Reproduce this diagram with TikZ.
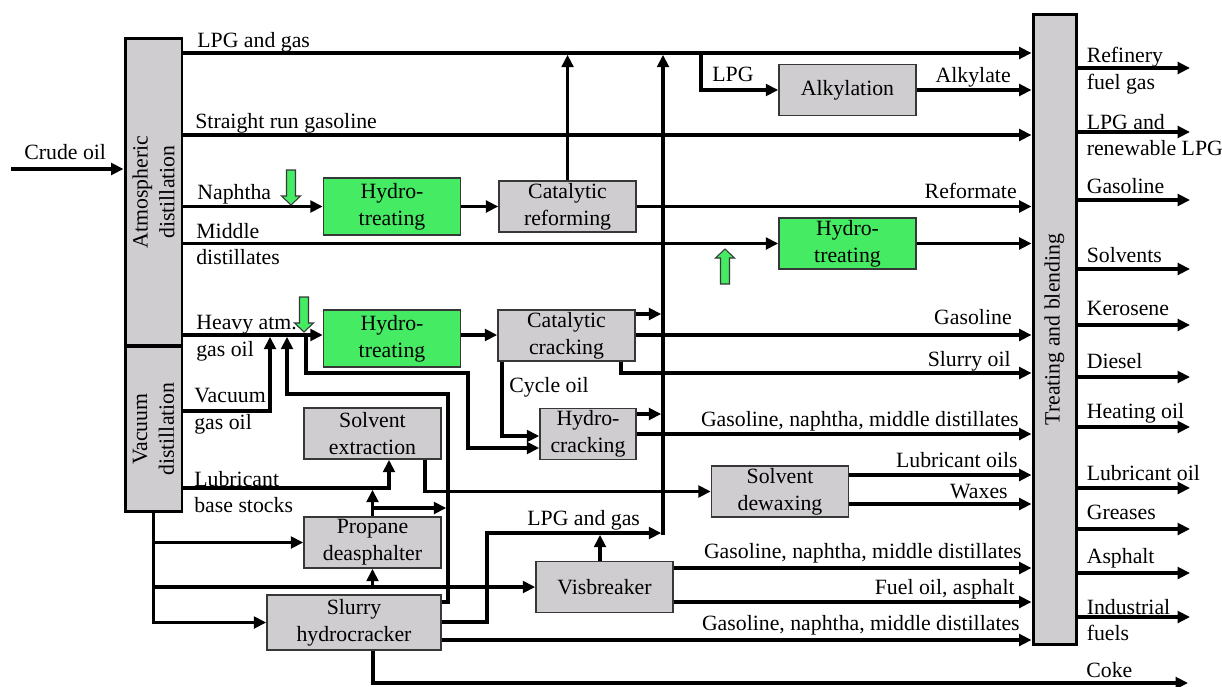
\documentclass[tikz,border=0pt]{standalone}
\usepackage{fontspec}
\setmainfont{Liberation Serif}
\usetikzlibrary{arrows.meta,positioning}

\definecolor{unitgray}{RGB}{207,205,207}
\definecolor{hydrogreen}{RGB}{69,235,99}
\definecolor{edgegray}{RGB}{55,55,55}

\begin{document}
\begin{tikzpicture}
  [x=0.02cm, y=-0.02cm,
   font=\fontsize{12.4}{15.3}\selectfont,
   unit/.style={draw=edgegray, line width=0.9pt, fill=unitgray, align=center,
                inner sep=0pt, minimum width=2.74cm, minimum height=1.02cm},
   hydro/.style={unit, fill=hydrogreen, minimum height=1.13cm},
   column/.style={draw=black, line width=1.7pt, fill=unitgray, inner sep=0pt},
   coltext/.style={rotate=90, align=center, inner sep=0pt},
   flow/.style={-{Triangle[length=7pt,width=6.6pt]}, line width=2pt},
   merge/.style={flow, shorten >=1pt},
   lbl/.style={anchor=base west, inner sep=0pt},
   rlbl/.style={anchor=base east, inner sep=0pt},
   two/.style={anchor=west, align=left, inner sep=0pt},
   h2/.style={draw=edgegray, line width=0.6pt, fill=hydrogreen}]

  \useasboundingbox (0,0) rectangle (1222,686);

  % columns
  \node[column, minimum width=1.14cm, minimum height=6.16cm]  (atm dist)    at (153.5,192)    {};
  \node[column, minimum width=1.14cm, minimum height=3.32cm]  (vac dist)    at (153.5,429)    {};
  \node[column, minimum width=0.86cm, minimum height=12.62cm] (treat blend) at (1054.5,329.5) {};
  \node[coltext] (atm text)   at (atm dist)    {Atmospheric\\distillation};
  \node[coltext] (vac text)   at (vac dist)    {Vacuum\\distillation};
  \node[coltext] (blend text) at (treat blend) {Treating and blending};

  % process units
  \node[unit]  (alkylation)   at (847.5,90)    {Alkylation};
  \node[hydro] (naphtha ht)   at (392,206.5)   {Hydro-\\treating};
  \node[unit]  (reformer)     [right=0.74cm of naphtha ht] {Catalytic\\reforming};
  \node[hydro, minimum height=1.02cm] (distillate ht) at (847.5,243.5) {Hydro-\\treating};
  \node[hydro] (gas oil ht)   at (392,338.5)   {Hydro-\\treating};
  \node[unit]  (cat cracker)  at (566.5,335.5) {Catalytic\\cracking};
  \node[unit, minimum width=1.92cm] (hydrocracker) at (588,434) {Hydro-\\cracking};
  \node[unit]  (solvent extr) at (372.5,433.5) {Solvent\\extraction};
  \node[unit]  (dewaxing)     at (780,491.5)   {Solvent\\dewaxing};
  \node[unit]  (deasphalter)  at (372.5,542.5) {Propane\\deasphalter};
  \node[unit]  (visbreaker)   at (604.5,587)   {Visbreaker};
  \node[unit, minimum width=3.48cm, minimum height=1.1cm] (slurry hc) at (354,622.5) {Slurry\\hydrocracker};

  % crude feed
  \coordinate (crude in) at (11,169);
  \draw[flow] (crude in) -- (atm dist.west |- crude in);
  \node[lbl] (crude lbl) at (24,159) {Crude oil};

  % atmospheric cuts
  \draw[flow] (atm dist.east |- 0,53) -- (treat blend.west |- 0,53);
  \draw[flow] (atm dist.east |- 0,135) -- (treat blend.west |- 0,135);
  \draw[flow] (atm dist.east |- naphtha ht) -- (naphtha ht);
  \draw[flow] (atm dist.east |- distillate ht) -- (distillate ht);
  \draw[flow] (atm dist.east |- 0,335) -- (gas oil ht.west |- 0,335);
  \node[lbl] (lpg lbl)     at (197,48)    {LPG and gas};
  \node[lbl] (srg lbl)     at (195,128)   {Straight run gasoline};
  \node[lbl] (naphtha lbl) at (197,199)   {Naphtha};
  \node[two] (md lbl)      at (196,244)   {Middle\\distillates};
  \node[two] (hago lbl)    at (196,338.5) {Heavy atm.\\gas oil};

  % light ends and alkylation
  \coordinate (lpg split) at (701,53);
  \coordinate (riser foot) at (663,533);
  \draw[flow] (lpg split) |- (alkylation);
  \draw[flow] (alkylation) -- (alkylation -| treat blend.west);
  \draw[merge] ([yshift=-1pt]riser foot) -- (riser foot |- lpg split);
  \node[lbl]  (alky feed lbl) at (712,82)  {LPG};
  \node[rlbl] (alkylate lbl)  at (1011,83) {Alkylate};

  % naphtha train
  \draw[flow] (naphtha ht) -- (reformer);
  \draw[merge] (reformer) -- (reformer |- lpg split);
  \draw[flow] (reformer) -- (reformer -| treat blend.west);
  \draw[flow] (distillate ht) -- (distillate ht -| treat blend.west);
  \node[rlbl] (reformate lbl) at (1017,198) {Reformate};

  % gas oil train
  \coordinate (hago split) at (306,335);
  \draw[flow] (gas oil ht.east |- 0,335) -- (cat cracker.west |- 0,335);
  \draw[merge] (cat cracker.east |- 0,314) -- (riser foot |- 0,314);
  \draw[flow] (cat cracker.east |- 0,335) -- (treat blend.west |- 0,335);
  \draw[flow] (cat cracker.south -| 621,0) |- (treat blend.west |- 0,373);
  \draw[flow] (cat cracker.south -| 502,0) |- (hydrocracker.west |- 0,436);
  \draw[flow] (hago split) -- (306,373) -| (468,448) -- (hydrocracker.west |- 0,448);
  \node[rlbl] (fcc gas lbl)    at (1012,324) {Gasoline};
  \node[rlbl] (slurry oil lbl) at (1011,366) {Slurry oil};
  \node[lbl]  (cycle lbl)      at (509,392)  {Cycle oil};

  % hydrocracker
  \draw[merge] (hydrocracker.east |- 0,414) -- (riser foot |- 0,414);
  \draw[flow] (hydrocracker) -- (hydrocracker -| treat blend.west);
  \node[rlbl] (hc lbl) at (1019,426) {Gasoline, naphtha, middle distillates};

  % vacuum cuts
  \draw[merge] (vac dist.east |- 0,411) -| (270,335);
  \draw[merge] (slurry hc.east |- 0,602) -| (448,394) -| (287,335);
  \draw[flow] (vac dist.east |- 0,488) -| ([xshift=0.33cm]solvent extr.south);
  \draw[flow] ([xshift=1.05cm]solvent extr.south) |- (dewaxing);
  \draw[merge] (deasphalter) -- (deasphalter |- 0,488);
  \draw[merge] (deasphalter.north |- 0,508) -- (448,508);
  \node[two] (vgo lbl)  at (194,411.5) {Vacuum\\gas oil};
  \node[two] (lube lbl) at (194,492)   {Lubricant\\base stocks};

  % dewaxing
  \draw[flow] (dewaxing.east |- 0,475) -- (treat blend.west |- 0,475);
  \draw[flow] (dewaxing.east |- 0,504) -- (treat blend.west |- 0,504);
  \node[rlbl] (lube oils lbl) at (1018,467) {Lubricant oils};
  \node[rlbl] (wax lbl)       at (1008,498) {Waxes};

  % vacuum residue
  \draw[flow] (vac dist.south) |- (slurry hc);
  \draw[flow] (vac dist.south |- deasphalter) -- (deasphalter);
  \draw[flow] (vac dist.south |- visbreaker) -- (visbreaker);
  \draw[flow] (deasphalter |- visbreaker) -- (deasphalter);

  % visbreaker
  \draw[merge] ([xshift=-0.09cm]visbreaker.north) -- ([xshift=-0.09cm]visbreaker.north |- riser foot);
  \draw[flow] (visbreaker.east |- 0,568) -- (treat blend.west |- 0,568);
  \draw[flow] (visbreaker.east |- 0,602) -- (treat blend.west |- 0,602);
  \node[rlbl] (vb gas lbl)   at (1022,558) {Gasoline, naphtha, middle distillates};
  \node[rlbl] (fuel oil lbl) at (1015,594) {Fuel oil, asphalt};

  % slurry hydrocracker
  \coordinate (coke out) at (1188,683);
  \draw[merge] (slurry hc.east |- 0,622) -| (487,533) -- (riser foot);
  \draw[flow] (slurry hc.east |- 0,640) -- (treat blend.west |- 0,640);
  \draw[flow] ([xshift=0.38cm]slurry hc.south) |- (coke out);
  \node[lbl]  (slurry lpg lbl) at (527,525)  {LPG and gas};
  \node[rlbl] (slurry gas lbl) at (1020,630) {Gasoline, naphtha, middle distillates};
  \node[lbl]  (coke lbl)       at (1086,677) {Coke};

  % products
  \foreach \y/\b/\prod in {200/193/Gasoline, 269/262/Solvents, 325/315/Kerosene, 377/368/Diesel,
                           427/418/Heating oil, 488/480/Lubricant oil, 529/519/Greases, 573/563/Asphalt}
    \draw[flow] (treat blend.east |- 0,\y) -- (1190,\y)
      node[lbl] (prod \y) at (1085,\b) {\prod};
  \foreach \y/\prod in {68/{Refinery\\fuel gas}, 132/{LPG and\\renewable LPG}, 617/{Industrial\\fuels}}
    \draw[flow] (treat blend.east |- 0,\y) -- (1190,\y)
      node[two] (prod \y) at (1085,\y+3) {\prod};

  % hydrogen
  \foreach \x/\y/\d in {291/205/1, 304/332/1, 725/249/-1}
    \draw[h2, shift={(\x,\y)}, yscale=\d] (0,0) -- (9.5,-9) -- (4.5,-9) -- (4.5,-35)
      -- (-4.5,-35) -- (-4.5,-9) -- (-9.5,-9) -- cycle;
\end{tikzpicture}
\end{document}
